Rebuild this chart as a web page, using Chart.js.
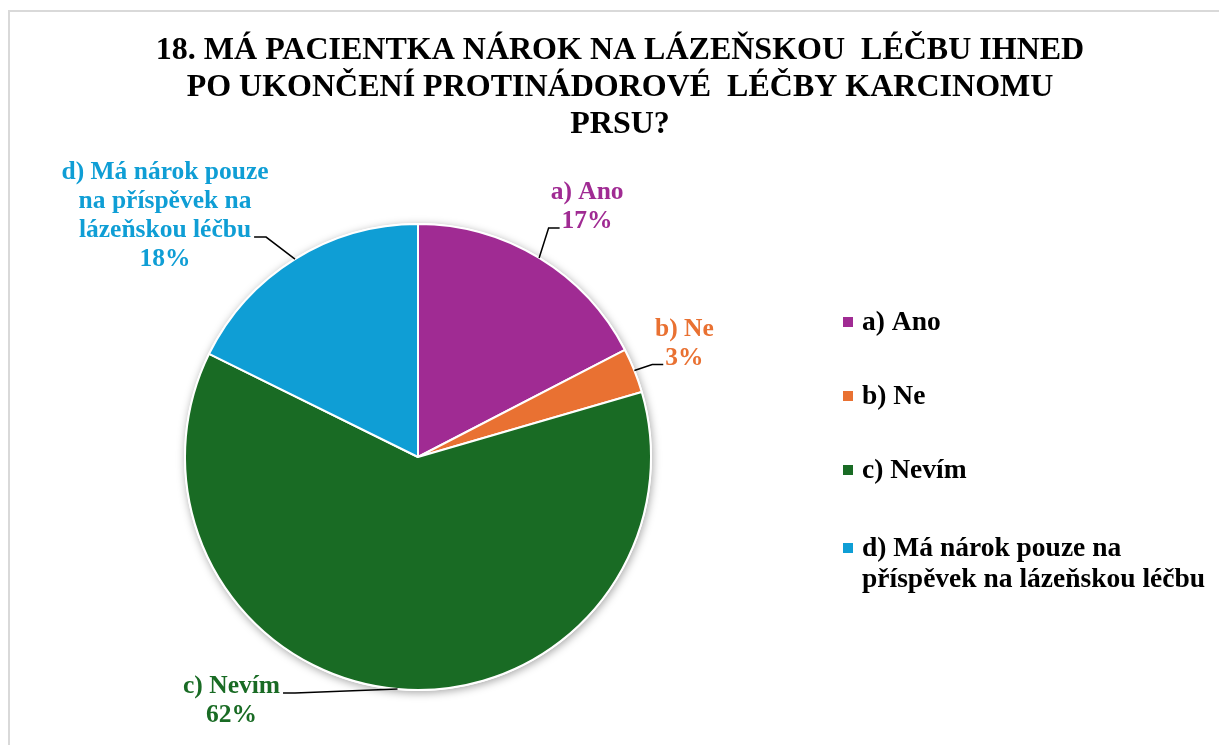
<!DOCTYPE html>
<html><head><meta charset="utf-8">
<script src="https://cdn.jsdelivr.net/npm/chart.js@4.4.1/dist/chart.umd.min.js"></script>
<style>html,body{margin:0;padding:0;background:#fff;}#wrap{width:1219px;height:745px;position:relative;}</style>
</head><body><div id="wrap"><canvas id="c" width="1219" height="745"></canvas></div>
<script>
const titleLines = ['18. MÁ PACIENTKA NÁROK NA LÁZEŇSKOU  LÉČBU IHNED', 'PO UKONČENÍ PROTINÁDOROVÉ  LÉČBY KARCINOMU', 'PRSU?'];
const categories = ['a) Ano', 'b) Ne', 'c) Nevím', 'd) Má nárok pouze na příspěvek na lázeňskou léčbu'];
const values = [17.4, 3.1, 61.8, 17.7];
const colors = ['#A02B93', '#E97132', '#196B24', '#0F9ED5'];

// label placement relative to the slice's mid-angle point on the rim
const labelLayout = [
  {dx: 48, dy: -59, attach: 1, side: 'right'},
  {dx: 50, dy: -35, attach: 1, side: 'right'},
  {dx: -166, dy: 4, attach: 0, side: 'left'},
  {dx: -130, dy: -80, attach: 2, side: 'left'}
];

const SERIF = '"Liberation Serif", "Times New Roman", serif';

function wrap(ctx, text, maxW) {
  const words = text.split(' ');
  const lines = [];
  let cur = '';
  for (const w of words) {
    const t = cur ? cur + ' ' + w : w;
    if (cur && ctx.measureText(t).width > maxW) { lines.push(cur); cur = w; }
    else cur = t;
  }
  if (cur) lines.push(cur);
  return lines;
}

const framePlugin = {
  id: 'frame',
  beforeDraw(chart) {
    const ctx = chart.ctx;
    ctx.save();
    ctx.fillStyle = '#fff';
    ctx.fillRect(0, 0, chart.width, chart.height);
    ctx.strokeStyle = '#d9d9d9';
    ctx.lineWidth = 2;
    ctx.beginPath();
    ctx.moveTo(9, chart.height + 5);
    ctx.lineTo(9, 11);
    ctx.lineTo(chart.width + 5, 11);
    ctx.stroke();
    ctx.restore();
  }
};

const shadowPlugin = {
  id: 'pieShadow',
  beforeDatasetsDraw(chart) {
    const arc = chart.getDatasetMeta(0).data[0];
    if (!arc) return;
    const ctx = chart.ctx;
    ctx.save();
    ctx.shadowColor = 'rgba(0,0,0,0.35)';
    ctx.shadowBlur = 9;
    ctx.shadowOffsetX = 1;
    ctx.shadowOffsetY = 2;
    ctx.fillStyle = '#fff';
    ctx.beginPath();
    ctx.arc(arc.x, arc.y, arc.outerRadius + 1, 0, Math.PI * 2);
    ctx.fill();
    ctx.restore();
  }
};

const labelPlugin = {
  id: 'sliceLabels',
  afterDatasetsDraw(chart) {
    const ctx = chart.ctx;
    const meta = chart.getDatasetMeta(0);
    const data = chart.data.datasets[0].data;
    const total = data.reduce((s, v) => s + v, 0);
    ctx.save();
    ctx.font = 'bold 25.5px ' + SERIF;
    const lh = 29;
    meta.data.forEach((arc, i) => {
      const mid = (arc.startAngle + arc.endAngle) / 2;
      const ax = arc.x + Math.cos(mid) * arc.outerRadius;
      const ay = arc.y + Math.sin(mid) * arc.outerRadius;
      const L = labelLayout[i];
      const lines = wrap(ctx, chart.data.labels[i], 225);
      lines.push(Math.round(data[i] / total * 100) + '%');
      const cx = ax + L.dx;
      const by = ay + L.dy;
      ctx.fillStyle = colors[i];
      ctx.textAlign = 'center';
      ctx.textBaseline = 'alphabetic';
      lines.forEach((ln, k) => ctx.fillText(ln, cx, by + k * lh));
      const aw = ctx.measureText(lines[L.attach]).width;
      const ly = by + L.attach * lh;
      let ex, elx;
      if (L.side === 'right') { ex = cx - aw / 2 - 2; elx = ex - 11; }
      else { ex = cx + aw / 2 + 3; elx = ex + 12; }
      ctx.strokeStyle = '#000';
      ctx.lineWidth = 1.5;
      ctx.beginPath();
      ctx.moveTo(ax, ay);
      ctx.lineTo(elx, ly);
      ctx.lineTo(ex, ly);
      ctx.stroke();
    });
    ctx.restore();
  }
};

const titleLegendPlugin = {
  id: 'titleLegend',
  afterDraw(chart) {
    const ctx = chart.ctx;
    ctx.save();
    ctx.fillStyle = '#000';
    ctx.textAlign = 'center';
    ctx.textBaseline = 'alphabetic';
    ctx.font = 'bold 32px ' + SERIF;
    titleLines.forEach((t, k) => ctx.fillText(t, 620, 59 + k * 37));

    ctx.font = 'bold 27.5px ' + SERIF;
    ctx.textAlign = 'left';
    let y = 330;
    const lh = 31;
    chart.data.labels.forEach((lab, i) => {
      const lines = wrap(ctx, lab, 360);
      const yy = y + (lines.length - 1) * 4;
      ctx.fillStyle = colors[i];
      ctx.fillRect(843, yy - 13, 10, 10);
      ctx.fillStyle = '#000';
      lines.forEach((ln, k) => ctx.fillText(ln, 862, yy + k * lh));
      y += 74;
    });
    ctx.restore();
  }
};

new Chart(document.getElementById('c'), {
  type: 'pie',
  data: {
    labels: categories,
    datasets: [{
      data: values,
      backgroundColor: colors,
      borderColor: '#ffffff',
      borderWidth: 2,
      radius: 233
    }]
  },
  options: {
    responsive: false,
    animation: false,
    layout: {padding: {left: 184, right: 567, top: 223, bottom: 54}},
    plugins: {legend: {display: false}, tooltip: {enabled: false}, title: {display: false}}
  },
  plugins: [framePlugin, shadowPlugin, labelPlugin, titleLegendPlugin]
});
</script>
</body></html>
